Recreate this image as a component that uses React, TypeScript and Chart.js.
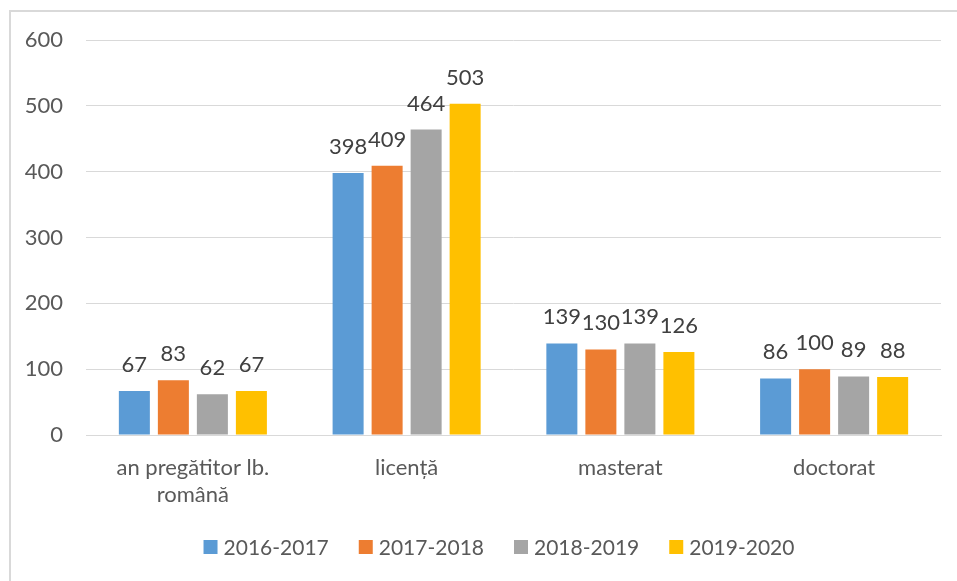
import React, { useEffect, useRef } from 'react';
import { Chart, registerables } from 'chart.js';

Chart.register(...registerables);

const categories: (string | string[])[] = [['an pregătitor lb.', 'română'], 'licență', 'masterat', 'doctorat'];
const seriesNames = ['2016-2017', '2017-2018', '2018-2019', '2019-2020'];
const values20162017 = [67, 398, 139, 86];
const values20172018 = [83, 409, 130, 100];
const values20182019 = [62, 464, 139, 89];
const values20192020 = [67, 503, 126, 88];
const seriesValues = [values20162017, values20172018, values20182019, values20192020];
const seriesColors = ['#5B9BD5', '#ED7D31', '#A5A5A5', '#FFC000'];
const yMin = 0;
const yMax = 600;
const yStep = 100;

const FONT = 'Lato, "Open Sans", sans-serif';

const dataLabelPlugin = {
  id: 'dataLabels',
  afterDatasetsDraw(chart: any) {
    const ctx = chart.ctx;
    ctx.save();
    ctx.font = `22px ${FONT}`;
    ctx.fillStyle = '#404040';
    ctx.textAlign = 'center';
    ctx.textBaseline = 'alphabetic';
    chart.data.datasets.forEach((ds: any, i: number) => {
      const meta = chart.getDatasetMeta(i);
      meta.data.forEach((el: any, j: number) => {
        ctx.fillText(String(ds.data[j]), el.x, el.y - 19);
      });
    });
    ctx.restore();
  },
};

const legendPlugin = {
  id: 'customLegend',
  afterDraw(chart: any) {
    const ctx = chart.ctx;
    ctx.save();
    ctx.font = `21px ${FONT}`;
    ctx.textBaseline = 'middle';
    ctx.textAlign = 'left';
    const box = 14;
    const gapText = 6;
    const gapItem = 30;
    const items = chart.data.datasets.map((ds: any) => ({
      text: ds.label,
      color: ds.backgroundColor,
      w: box + gapText + ctx.measureText(ds.label).width,
    }));
    const total = items.reduce((a: number, it: any) => a + it.w, 0) + gapItem * (items.length - 1);
    let x = 499 - total / 2;
    const cy = 547;
    items.forEach((it: any) => {
      ctx.fillStyle = it.color;
      ctx.fillRect(x, cy - 7, box, box);
      ctx.fillStyle = '#595959';
      ctx.fillText(it.text, x + box + gapText, cy + 1);
      x += it.w + gapItem;
    });
    ctx.restore();
  },
};

export default function App() {
  const canvasRef = useRef<HTMLCanvasElement | null>(null);

  useEffect(() => {
    if (!canvasRef.current) return;
    const chart = new Chart(canvasRef.current, {
      type: 'bar',
      data: {
        labels: categories,
        datasets: seriesNames.map((name, i) => ({
          label: name,
          data: seriesValues[i],
          backgroundColor: seriesColors[i],
          borderWidth: 0,
          categoryPercentage: 0.73,
          barPercentage: 0.795,
        })),
      },
      options: {
        responsive: false,
        animation: false,
        maintainAspectRatio: false,
        layout: { padding: { left: 0, right: 16, top: 40, bottom: 0 } },
        plugins: {
          legend: { display: false },
          tooltip: { enabled: false },
          title: { display: false },
        },
        scales: {
          x: {
            grid: { display: false, drawTicks: false },
            border: { display: true, color: '#D9D9D9', width: 1 },
            ticks: {
              color: '#595959',
              font: { family: FONT, size: 22, lineHeight: 1.2 },
              padding: 20,
              maxRotation: 0,
              autoSkip: false,
            },
            afterFit: (s: any) => {
              s.height = 146;
            },
          },
          y: {
            min: yMin,
            max: yMax,
            grid: { color: '#D9D9D9', lineWidth: 1, drawTicks: false },
            border: { display: false },
            ticks: {
              stepSize: yStep,
              color: '#595959',
              font: { family: FONT, size: 22 },
              padding: 23,
            },
            afterFit: (s: any) => {
              s.width = 86;
            },
          },
        },
      },
      plugins: [dataLabelPlugin, legendPlugin],
    });
    return () => chart.destroy();
  }, []);

  return (
    <div style={{ position: 'absolute', left: 0, top: 0, width: 957, height: 581, background: '#fff', overflow: 'hidden' }}>
      <div
        style={{
          position: 'absolute',
          left: 9,
          top: 10,
          width: 1000,
          height: 600,
          borderLeft: '2px solid #D9D9D9',
          borderTop: '2px solid #D9D9D9',
          boxSizing: 'border-box',
        }}
      />
      <canvas ref={canvasRef} width={957} height={581} style={{ position: 'absolute', left: 0, top: 0 }} />
    </div>
  );
}
